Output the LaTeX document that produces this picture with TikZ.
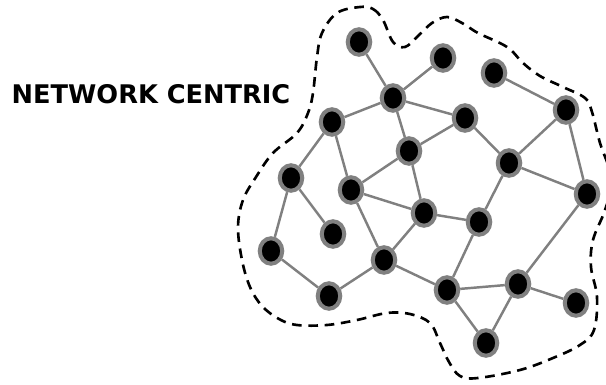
\documentclass[tikz,border=0pt]{standalone}
\usepackage{fontspec}
\usepackage{tikz}
\usetikzlibrary{shapes.geometric}
\newfontfamily\titlefont{DejaVu Sans}
\definecolor{netGray}{RGB}{128,128,128}

\begin{document}
\begin{tikzpicture}[x=0.02cm, y=-0.02cm,
    peer/.style={ellipse, draw=netGray, fill=black, line width=2.3pt, inner sep=0pt,
                 minimum width=12.8pt, minimum height=14.5pt},
    link/.style={netGray, line width=1.4pt},
    cloud/.style={black, line width=1.5pt, dash pattern=on 5.5pt off 3.8pt}]
  \useasboundingbox (0,0) rectangle (606,385);

  % Title
  \node[font=\titlefont\bfseries\fontsize{14.6}{16}\selectfont] (title) at (151,94) {NETWORK CENTRIC};

  % Boundary of the network
  \draw[cloud] plot[smooth cycle, tension=0.6] coordinates {
    (360,7) (373,9) (383,20) (393,42) (405,47) (418,36) (432,23) (447,17)
    (462,23) (478,33) (507,47) (523,63) (540,76) (563,87) (585,98) (592,112)
    (600,143) (612,180) (605,210) (593,240) (591,267) (597,297) (594,330)
    (580,345) (553,358) (520,370) (478,378) (460,376) (449,362) (440,343)
    (430,323) (410,314) (387,313) (357,320) (327,325) (297,325) (279,319)
    (262,306) (250,287) (242,260) (238,227) (243,200) (256,177) (273,153)
    (297,133) (308,113) (313,93) (317,57) (322,33) (337,13)};

  % Peers
  \node[peer] (n1) at (359,42) {};
  \node[peer] (n2) at (443,58) {};
  \node[peer] (n3) at (494,73) {};
  \node[peer] (n4) at (393,98) {};
  \node[peer] (n5) at (332,122) {};
  \node[peer] (n6) at (465,118) {};
  \node[peer] (n7) at (566,110) {};
  \node[peer] (n8) at (409,151) {};
  \node[peer] (n9) at (509,163) {};
  \node[peer] (n10) at (291,178) {};
  \node[peer] (n11) at (351,190) {};
  \node[peer] (n12) at (587,194) {};
  \node[peer] (n13) at (424,213) {};
  \node[peer] (n14) at (479,222) {};
  \node[peer] (n15) at (333,234) {};
  \node[peer] (n16) at (271,251) {};
  \node[peer] (n17) at (384,260) {};
  \node[peer] (n18) at (518,284) {};
  \node[peer] (n19) at (447,290) {};
  \node[peer] (n20) at (576,303) {};
  \node[peer] (n21) at (329,296) {};
  \node[peer] (n22) at (486,343) {};

  % Links
  \draw[link] (n1) -- (n4);
  \draw[link] (n2) -- (n4);
  \draw[link] (n3) -- (n7);
  \draw[link] (n4) -- (n5);
  \draw[link] (n4) -- (n6);
  \draw[link] (n4) -- (n8);
  \draw[link] (n5) -- (n10);
  \draw[link] (n5) -- (n11);
  \draw[link] (n6) -- (n8);
  \draw[link] (n6) -- (n9);
  \draw[link] (n7) -- (n9);
  \draw[link] (n7) -- (n12);
  \draw[link] (n9) -- (n12);
  \draw[link] (n9) -- (n14);
  \draw[link] (n8) -- (n11);
  \draw[link] (n8) -- (n13);
  \draw[link] (n11) -- (n13);
  \draw[link] (n11) -- (n17);
  \draw[link] (n10) -- (n15);
  \draw[link] (n10) -- (n16);
  \draw[link] (n16) -- (n21);
  \draw[link] (n21) -- (n17);
  \draw[link] (n17) -- (n13);
  \draw[link] (n17) -- (n19);
  \draw[link] (n13) -- (n14);
  \draw[link] (n14) -- (n19);
  \draw[link] (n19) -- (n18);
  \draw[link] (n19) -- (n22);
  \draw[link] (n18) -- (n22);
  \draw[link] (n18) -- (n12);
  \draw[link] (n18) -- (n20);
\end{tikzpicture}
\end{document}
